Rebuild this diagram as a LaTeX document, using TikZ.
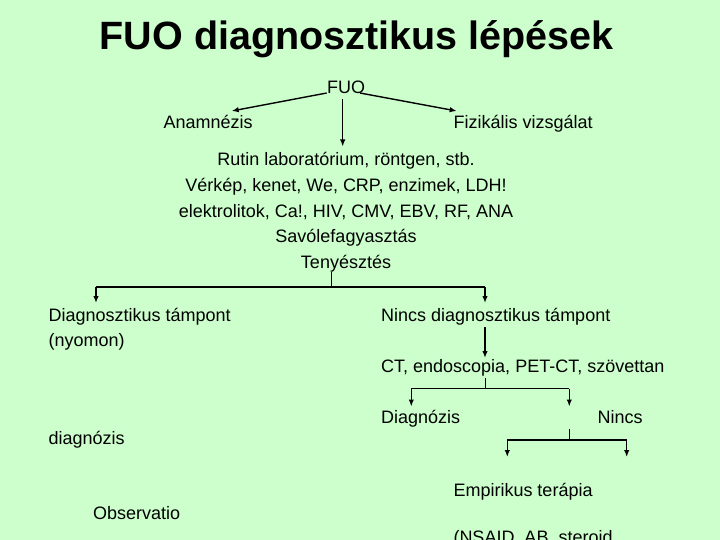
\documentclass[tikz,border=0pt]{standalone}
\usepackage{fontspec}
\setmainfont{Liberation Sans}
\usetikzlibrary{arrows.meta}
\definecolor{bggreen}{HTML}{CCFFCC}
\tikzset{
  txt/.style={anchor=base west, inner sep=0pt, font=\fontsize{18}{20}\selectfont},
  ctxt/.style={anchor=base, inner sep=0pt, font=\fontsize{18}{20}\selectfont},
  arr/.style={line width=1.4pt, -{Latex[length=7pt,width=5.5pt]}},
  stem/.style={line width=0.9pt},
  bar/.style={line width=1.4pt}
}
\begin{document}
\begin{tikzpicture}[x=1pt,y=-1pt]
\useasboundingbox (0,0) rectangle (720,540);
\clip (0,0) rectangle (720,540);
\fill[bggreen] (0,0) rectangle (720,540);
% title
\node[anchor=base, inner sep=0pt, font=\fontsize{39.5}{42}\selectfont\bfseries] (title) at (356.5,50) {FUO diagnosztikus lépések};
% top level
\node[txt] (fuo) at (327,94) {FUO};
\node[txt] (anam) at (163.5,129) {Anamnézis};
\node[txt] (fiz) at (453.5,129) {Fizikális vizsgálat};
\node[ctxt] (l1) at (346,166) {Rutin laboratórium, röntgen, stb.};
\node[ctxt] (l2) at (346,191.7) {Vérkép, kenet, We, CRP, enzimek, LDH!};
\node[ctxt] (l3) at (346,217.3) {elektrolitok, Ca!, HIV, CMV, EBV, RF, ANA};
\node[ctxt] (l4) at (346,243) {Savólefagyasztás};
\node[ctxt] (l5) at (346,268.6) {Tenyésztés};
\coordinate (fuoL) at (326.7,93);
\coordinate (fuoR) at (360,93);
\coordinate (fuoD) at (342.7,99.5);
\coordinate (anamT) at (231.7,111);
\coordinate (fizT) at (456.7,111);
\coordinate (l1T) at (342.7,146.5);
\draw[arr] (fuoL) -- (anamT);
\draw[arr] (fuoR) -- (fizT);
\draw[arr] (fuoD) -- (l1T);
% second level
\node[txt] (diag) at (48.5,321) {Diagnosztikus támpont};
\node[txt] (nyom) at (48.5,346.7) {(nyomon)};
\node[txt] (nincs) at (381,321) {Nincs diagnosztikus támpont};
\node[txt] (ct) at (381,372) {CT, endoscopia, PET-CT, szövettan};
\coordinate (j1top) at (331.7,272);
\coordinate (j1) at (331.7,287);
\coordinate (j1L) at (96,287);
\coordinate (j1R) at (485,287);
\draw[stem] (j1top) -- (j1);
\draw[bar] (j1L) -- (j1R);
\draw[arr] (j1L) -- (96,303);
\draw[arr] (j1R) -- (485,303);
\coordinate (nincsB) at (485,327);
\draw[arr] (nincsB) -- (485,358);
% third level
\node[txt] (diagn) at (381,423.3) {Diagnózis};
\node[txt] (nincs2) at (597.5,423.3) {Nincs};
\node[txt] (diagl) at (48.5,444) {diagnózis};
\coordinate (j2top) at (485,378);
\coordinate (j2) at (485,388.5);
\coordinate (j2L) at (411.3,388.5);
\coordinate (j2R) at (569.3,388.5);
\draw[stem] (j2top) -- (j2);
\draw[bar] (j2L) -- (j2R);
\draw[arr] (j2L) -- (411.3,406.5);
\draw[arr] (j2R) -- (569.3,406.5);
% fourth level
\coordinate (j3top) at (569.3,429);
\coordinate (j3) at (569.3,440);
\coordinate (j3L) at (507.3,440);
\coordinate (j3R) at (626.7,440);
\draw[stem] (j3top) -- (j3);
\draw[bar] (j3L) -- (j3R);
\draw[arr] (j3L) -- (507.3,457);
\draw[arr] (j3R) -- (626.7,457);
\node[txt] (emp) at (453.3,496) {Empirikus terápia};
\node[txt] (obs) at (93,519) {Observatio};
\node[txt] (nsaid) at (453.3,543) {(NSAID, AB, steroid};
\end{tikzpicture}
\end{document}
